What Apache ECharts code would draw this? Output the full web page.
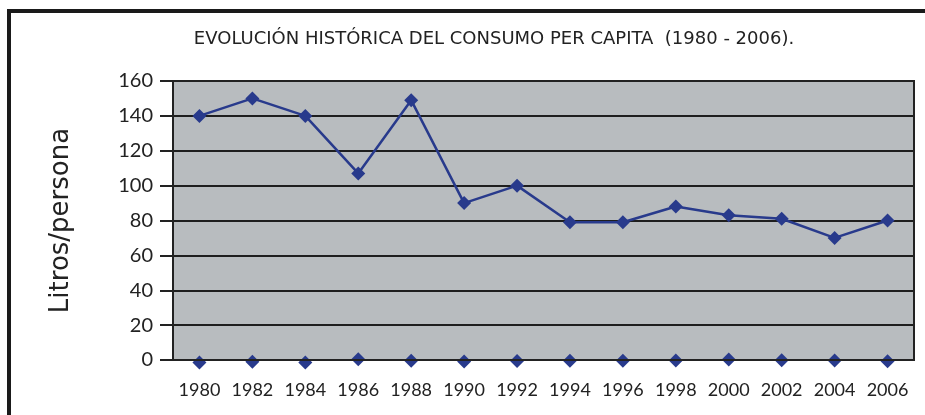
<!DOCTYPE html>
<html><head><meta charset="utf-8">
<script src="https://cdn.jsdelivr.net/npm/echarts@6/dist/echarts.min.js"></script>
<style>html,body{margin:0;padding:0;background:#fff}#c{width:925px;height:415px}</style>
</head><body><div id="c"></div>
<script>
const titleText = 'EVOLUCIÓN HISTÓRICA DEL CONSUMO PER CAPITA  (1980 - 2006).';
const yAxisName = 'Litros/persona';
const years = ['1980','1982','1984','1986','1988','1990','1992','1994','1996','1998','2000','2002','2004','2006'];
const consumo = [140,150,140,107,149,90,100,79,79,88,83,81,70,80];
const baseline = [-1.5,-1,-1.5,0.5,-0.5,-0.8,-0.6,-0.5,-0.5,-0.3,0.3,-0.2,-0.3,-0.7];
const yMin = 0, yMax = 160, yStep = 20;

const chart = echarts.init(document.getElementById('c'));
chart.setOption({
  animation:false,
  title:{text:titleText,left:489,top:25,textAlign:'center',
    textStyle:{fontFamily:"'DejaVu Sans', sans-serif",fontSize:18,fontWeight:'normal',color:'#222'}},
  graphic:[
    {type:'rect',shape:{x:9,y:11,width:1000,height:500},style:{fill:null,stroke:'#1a1a1a',lineWidth:4},z:100},
    {type:'rect',shape:{x:173,y:81,width:741,height:279},style:{fill:null,stroke:'#222',lineWidth:2},z:50}
  ],
  grid:{left:173,right:11,top:81,bottom:55,show:true,backgroundColor:'#b8bcbf',borderWidth:0},
  xAxis:{type:'category',data:years,boundaryGap:true,
    axisLine:{lineStyle:{color:'#222',width:2}},axisTick:{show:false},
    axisLabel:{fontFamily:'Lato, sans-serif',fontSize:18,color:'#222',margin:21,interval:0}},
  yAxis:{type:'value',min:yMin,max:yMax,interval:yStep,name:yAxisName,nameLocation:'middle',nameGap:99,
    nameTextStyle:{fontFamily:'DejaVu Sans, sans-serif',fontSize:26,color:'#222'},
    axisLine:{show:true,lineStyle:{color:'#222',width:2}},
    axisTick:{show:true,length:13,lineStyle:{color:'#222',width:2}},
    axisLabel:{fontFamily:'Lato, sans-serif',fontSize:20,color:'#222',margin:20},
    splitLine:{lineStyle:{color:'#1e1e1e',width:2}}},
  series:[
    {type:'line',data:consumo,symbol:'diamond',symbolSize:14,clip:false,
      lineStyle:{color:'#283a8c',width:2.5},itemStyle:{color:'#283a8c'},z:10},
    {type:'line',data:baseline,symbol:'diamond',symbolSize:14,clip:false,
      lineStyle:{width:0,opacity:0},itemStyle:{color:'#283a8c'},z:10}
  ]
});
</script></body></html>
